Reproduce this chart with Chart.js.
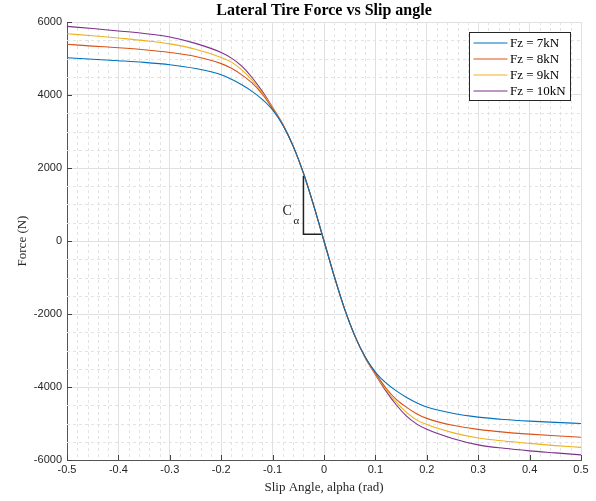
<!DOCTYPE html>
<html>
<head>
<meta charset="utf-8">
<script src="https://cdn.jsdelivr.net/npm/chart.js@4.4.0/dist/chart.umd.min.js"></script>
<style>
  html, body { margin: 0; padding: 0; background: #fff; }
  #wrap { width: 596px; height: 501px; }
</style>
</head>
<body>
<div id="wrap"><canvas id="tireChart" width="596" height="501"></canvas></div>
<script>
// slip angle samples (rad)
const slipAngles = [-0.5, -0.45, -0.4, -0.35, -0.3, -0.25, -0.2, -0.18, -0.16, -0.14, -0.12, -0.1, -0.08, -0.06,
  -0.04, -0.02, 0, 0.02, 0.04, 0.06, 0.08, 0.1, 0.12, 0.14, 0.16, 0.18, 0.2, 0.25, 0.3, 0.35, 0.4, 0.45, 0.5];

// lateral force (N), one list per normal load
const force7kN = [5020, 4980, 4940, 4895, 4830, 4725, 4555, 4430, 4280, 4100, 3880, 3590, 3170, 2600,
  1860, 970, 0, -970, -1860, -2600, -3170, -3590, -3880, -4100, -4280, -4430, -4550, -4720, -4825, -4890, -4935, -4970, -5000];
const force8kN = [5390, 5340, 5295, 5240, 5165, 5055, 4860, 4730, 4550, 4330, 4020, 3620, 3180, 2600,
  1860, 970, 0, -970, -1860, -2600, -3180, -3620, -4020, -4330, -4550, -4730, -4860, -5050, -5160, -5235, -5290, -5335, -5375];
const force9kN = [5680, 5625, 5560, 5490, 5400, 5255, 5030, 4900, 4690, 4410, 4060, 3650, 3190, 2600,
  1860, 970, 0, -970, -1860, -2600, -3190, -3650, -4060, -4410, -4690, -4900, -5030, -5250, -5397, -5480, -5545, -5605, -5655];
const force10kN = [5880, 5820, 5755, 5685, 5590, 5415, 5165, 5010, 4790, 4480, 4100, 3660, 3195, 2600,
  1860, 970, 0, -970, -1860, -2600, -3195, -3660, -4100, -4480, -4790, -5010, -5160, -5410, -5585, -5680, -5750, -5805, -5860];

const seriesLabels = ['Fz = 7kN', 'Fz = 8kN', 'Fz = 9kN', 'Fz = 10kN'];
const seriesColors = ['#0072BD', '#D95319', '#EDB120', '#7E2F8E'];
const seriesValues = [force7kN, force8kN, force9kN, force10kN];

// axis ticks
const xTicks = [-0.5, -0.4, -0.3, -0.2, -0.1, 0, 0.1, 0.2, 0.3, 0.4, 0.5];
const yTicks = [-6000, -4000, -2000, 0, 2000, 4000, 6000];
const xMinorStep = 0.02;
const yMinorStep = 500;

// cornering stiffness marker (triangle) and its label
const markerX = [-0.040, -0.040, -0.003];
const markerY = [1780, 185, 185];
const markerLabelPos = { x: -0.069, y: 800 };

const titleText = 'Lateral Tire Force vs Slip angle';
const serif = '"Liberation Serif", "Times New Roman", serif';
const sans = '"Liberation Sans", Arial, sans-serif';

// dotted minor grid + inward tick marks
const minorGrid = {
  id: 'minorGrid',
  beforeDatasetsDraw(chart) {
    const { ctx, chartArea: a, scales: { x, y } } = chart;
    ctx.save();
    ctx.strokeStyle = '#e3e3e3';
    ctx.lineWidth = 1;
    ctx.setLineDash([3, 3]);
    for (let i = 1; i < 50; i++) {
      if (i % 5 === 0) continue;
      const px = Math.round(x.getPixelForValue(-0.5 + i * xMinorStep)) + 0.5;
      ctx.beginPath(); ctx.moveTo(px, a.top); ctx.lineTo(px, a.bottom); ctx.stroke();
    }
    for (let i = 1; i < 24; i++) {
      if (i % 4 === 0) continue;
      const py = Math.round(y.getPixelForValue(-6000 + i * yMinorStep)) + 0.5;
      ctx.beginPath(); ctx.moveTo(a.left, py); ctx.lineTo(a.right, py); ctx.stroke();
    }
    ctx.setLineDash([]);
    ctx.strokeStyle = '#444';
    xTicks.forEach(v => {
      const px = Math.round(x.getPixelForValue(v)) + 0.5;
      ctx.beginPath(); ctx.moveTo(px, a.bottom); ctx.lineTo(px, a.bottom - 5); ctx.stroke();
    });
    yTicks.forEach(v => {
      const py = Math.round(y.getPixelForValue(v)) + 0.5;
      ctx.beginPath(); ctx.moveTo(a.left, py); ctx.lineTo(a.left + 5, py); ctx.stroke();
    });
    ctx.restore();
  }
};

// title, C-alpha label and the legend box
const extras = {
  id: 'extras',
  afterDraw(chart) {
    const { ctx, chartArea: a, scales: { x, y } } = chart;
    ctx.save();
    ctx.fillStyle = '#000';
    ctx.font = 'bold 16px ' + serif;
    ctx.textAlign = 'center';
    ctx.textBaseline = 'middle';
    ctx.fillText(titleText, (a.left + a.right) / 2, 11);

    // C alpha
    const lx = x.getPixelForValue(markerLabelPos.x);
    const ly = y.getPixelForValue(markerLabelPos.y);
    ctx.fillStyle = '#262626';
    ctx.font = '14px ' + serif;
    ctx.textAlign = 'left';
    ctx.fillText('C', lx - 6, ly);
    ctx.font = '11px ' + serif;
    ctx.fillText('\u03b1', lx + 5, ly + 9);

    // legend
    const bx = 469.5, by = 32.5, bw = 101, bh = 68;
    ctx.fillStyle = '#fff';
    ctx.fillRect(bx, by, bw, bh);
    ctx.strokeStyle = '#262626';
    ctx.lineWidth = 1;
    ctx.strokeRect(bx, by, bw, bh);
    ctx.font = '13px ' + serif;
    seriesLabels.forEach((lab, i) => {
      const ry = by + 10.5 + i * 16;
      ctx.strokeStyle = seriesColors[i];
      ctx.lineWidth = 1.2;
      ctx.beginPath(); ctx.moveTo(bx + 4, ry); ctx.lineTo(bx + 38, ry); ctx.stroke();
      ctx.fillStyle = '#000';
      ctx.fillText(lab, bx + 40.5, ry + 1);
    });
    ctx.restore();
  }
};

const datasets = seriesValues.map((vals, i) => ({
  label: seriesLabels[i],
  data: slipAngles.map((a, j) => ({ x: a, y: vals[j] })),
  borderColor: seriesColors[i],
  borderWidth: 1.1,
  pointRadius: 0,
  fill: false,
  cubicInterpolationMode: 'monotone'
}));
datasets.push({
  label: 'marker',
  data: markerX.map((v, j) => ({ x: v, y: markerY[j] })),
  borderColor: '#222',
  borderWidth: 1.5,
  pointRadius: 0,
  fill: false,
  tension: 0
});

new Chart(document.getElementById('tireChart'), {
  type: 'line',
  data: { datasets: datasets },
  options: {
    responsive: false,
    animation: false,
    layout: { padding: { top: 22, right: 15, left: 0, bottom: 0 } },
    plugins: {
      legend: { display: false },
      title: { display: false },
      tooltip: { enabled: false }
    },
    scales: {
      x: {
        type: 'linear',
        min: -0.5,
        max: 0.5,
        afterBuildTicks: s => { s.ticks = xTicks.map(v => ({ value: v })); },
        afterFit: s => { s.height = 41; },
        ticks: {
          color: '#262626',
          font: { family: sans, size: 11 },
          padding: 3,
          maxRotation: 0,
          callback: v => String(v)
        },
        grid: { color: '#e0e0e0', drawTicks: false },
        border: { display: true, color: '#555', width: 1 },
        title: {
          display: true,
          text: 'Slip Angle, alpha (rad)',
          color: '#262626',
          font: { family: serif, size: 13 },
          padding: { top: 0, bottom: 6 }
        }
      },
      y: {
        type: 'linear',
        min: -6000,
        max: 6000,
        afterBuildTicks: s => { s.ticks = yTicks.map(v => ({ value: v })); },
        afterFit: s => { s.width = 67; },
        ticks: {
          color: '#262626',
          font: { family: sans, size: 11 },
          padding: 5,
          callback: v => String(v)
        },
        grid: { color: '#e0e0e0', drawTicks: false },
        border: { display: true, color: '#555', width: 1 },
        title: {
          display: true,
          text: 'Force (N)',
          color: '#262626',
          font: { family: serif, size: 13 },
          padding: { top: 15, bottom: 0 }
        }
      }
    }
  },
  plugins: [minorGrid, extras]
});
</script>
</body>
</html>
